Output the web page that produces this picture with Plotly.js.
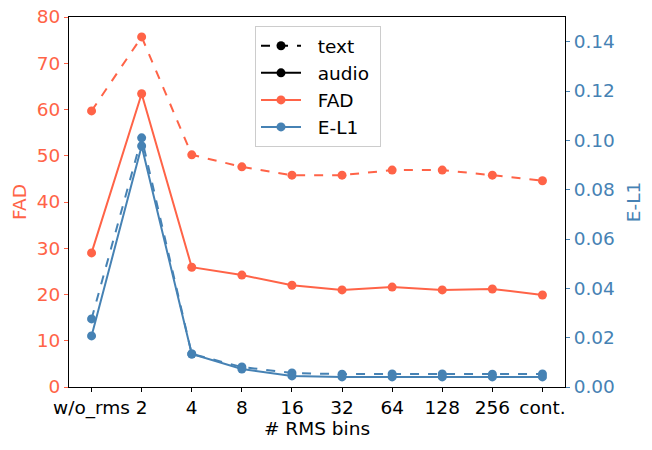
<!DOCTYPE html>
<html>
<head>
<meta charset="utf-8">
<script src="https://cdn.plot.ly/plotly-3.0.1.min.js"></script>
<style>
  html, body { margin: 0; padding: 0; background: #fff; }
  #chart { width: 652px; height: 450px; }
</style>
</head>
<body>
<div id="chart"></div>
<script>
// RMS bin settings along x
const bins = ['w/o_rms', '2', '4', '8', '16', '32', '64', '128', '256', 'cont.'];

// FAD (left axis)
const fadText  = [59.7, 75.7, 50.2, 47.6, 45.8, 45.8, 46.9, 46.9, 45.8, 44.6];
const fadAudio = [29.0, 63.4, 25.9, 24.2, 22.0, 21.0, 21.6, 21.0, 21.2, 19.9];

// E-L1 (right axis)
const el1Text  = [0.0276, 0.1010, 0.0134, 0.0081, 0.0057, 0.0052, 0.0053, 0.0053, 0.0052, 0.0053];
const el1Audio = [0.0207, 0.0977, 0.0134, 0.0073, 0.0045, 0.0041, 0.0041, 0.0041, 0.0041, 0.0041];

const FAD_COLOR = '#ff6347';
const EL1_COLOR = '#4682b4';
const FONT = "'DejaVu Sans', sans-serif";
const FS = 18.5;

/* ── traces ───────────────────────────────────────────── */

function series(y, color, dash, axis) {
  return {
    type: 'scatter',
    mode: 'lines+markers',
    x: bins,
    y: y,
    yaxis: axis,
    line: { color: color, width: 2, dash: dash },
    marker: { color: color, size: 9 },
    showlegend: false,
    hoverinfo: 'x+y',
  };
}

// legend-only entries (matplotlib-style proxy handles)
function proxy(name, color, dash) {
  return {
    type: 'scatter',
    mode: 'lines+markers',
    x: [null],
    y: [null],
    name: '\u00a0\u00a0' + name + '\u00a0',
    line: { color: color, width: 2, dash: dash },
    marker: { color: color, size: 9 },
    showlegend: true,
  };
}

const traces = [
  series(fadText, FAD_COLOR, 'dash', 'y'),
  series(fadAudio, FAD_COLOR, 'solid', 'y'),
  series(el1Text, EL1_COLOR, 'dash', 'y2'),
  series(el1Audio, EL1_COLOR, 'solid', 'y2'),
  proxy('text', '#000000', 'dash'),
  proxy('audio', '#000000', 'solid'),
  proxy('FAD', FAD_COLOR, 'solid'),
  proxy('E-L1', EL1_COLOR, 'solid'),
];

/* ── layout ───────────────────────────────────────────── */

const layout = {
  width: 652,
  height: 450,
  margin: { l: 69, r: 87, t: 17, b: 63 },
  paper_bgcolor: '#ffffff',
  plot_bgcolor: '#ffffff',
  font: { family: FONT, size: FS, color: '#000' },
  xaxis: {
    type: 'category',
    range: [-0.45, 9.45],
    showgrid: false,
    zeroline: false,
    showline: true,
    mirror: true,
    linecolor: '#000',
    linewidth: 1,
    ticks: 'outside',
    ticklen: 4,
    tickcolor: '#000',
    tickangle: 0,
    tickfont: { size: FS, color: '#000' },
    title: { text: '# RMS bins', font: { size: FS, color: '#000' }, standoff: 2 },
  },
  yaxis: {
    range: [0, 80],
    dtick: 10,
    showgrid: false,
    zeroline: false,
    showline: true,
    linecolor: '#000',
    linewidth: 1,
    ticks: 'outside',
    ticklen: 4,
    tickcolor: FAD_COLOR,
    tickfont: { size: FS, color: FAD_COLOR },
    title: { text: 'FAD', font: { size: FS, color: FAD_COLOR }, standoff: 5 },
  },
  yaxis2: {
    overlaying: 'y',
    side: 'right',
    range: [0, 0.15],
    dtick: 0.02,
    tickformat: '.2f',
    showgrid: false,
    zeroline: false,
    showline: true,
    linecolor: '#000',
    linewidth: 1,
    ticks: 'outside',
    ticklen: 4,
    tickcolor: EL1_COLOR,
    tickfont: { size: FS, color: EL1_COLOR },
    title: { text: 'E-L1', font: { size: FS, color: EL1_COLOR }, standoff: 13 },
  },
  showlegend: true,
  legend: {
    x: 0.375,
    y: 0.975,
    xanchor: 'left',
    yanchor: 'top',
    bgcolor: 'rgba(255,255,255,0.8)',
    bordercolor: '#cccccc',
    borderwidth: 1,
    font: { size: FS, color: '#000' },
    tracegroupgap: 0,
    itemwidth: 40,
  },
};

Plotly.newPlot('chart', traces, layout, { displayModeBar: false, staticPlot: true });
</script>
</body>
</html>
